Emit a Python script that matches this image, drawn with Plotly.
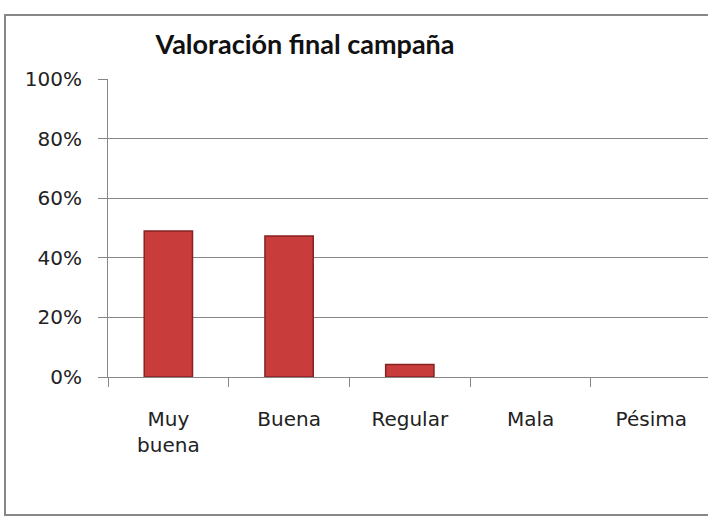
import plotly.graph_objects as go

categories = ["Muy<br>buena", "Buena", "Regular", "Mala", "Pésima"]
values = [0.49, 0.473, 0.042, 0.0, 0.0]
y_ticks = [0, 0.2, 0.4, 0.6, 0.8, 1.0]
title_text = "Valoración final campaña"

W, H = 708, 519
L, R, T, B = 108, 0, 79, 142
pw, ph = W - L - R, H - T - B

def px_x(p):
    return (p - L) / pw

def px_y(p):
    return (H - B - p) / ph

fig = go.Figure()
fig.add_trace(go.Bar(
    x=categories, y=values,
    marker=dict(color="#C83C3C",
                line=dict(color="#862222", width=[1.5 if v > 0 else 0 for v in values])),
    hoverinfo="skip",
))

fig.update_layout(
    width=W, height=H,
    margin=dict(l=L, r=R, t=T, b=B, pad=0),
    paper_bgcolor="white", plot_bgcolor="white",
    bargap=0.6, showlegend=False,
    font=dict(family="DejaVu Sans, sans-serif", color="#222222"),
    title=dict(text="<b>" + title_text + "</b>", x=px_x(305), xref="paper", xanchor="center",
               y=1 - 45 / H, yref="container", yanchor="middle",
               font=dict(family="Lato, sans-serif", size=27, color="#111111")),
    shapes=[dict(type="rect", xref="paper", yref="paper",
                 x0=px_x(5), x1=1.1, y0=px_y(515), y1=px_y(15),
                 line=dict(color="#878787", width=2), layer="below")],
)

fig.update_xaxes(
    type="category", range=[-0.5, 4.47],
    showline=True, linecolor="#878787", linewidth=1,
    ticks="outside", tickson="boundaries", ticklen=9, tickcolor="#878787",
    tickfont=dict(family="DejaVu Sans, sans-serif", size=20, color="#222222"),
    ticklabelstandoff=24,
    showgrid=False, zeroline=False,
)
fig.update_yaxes(
    range=[0, 1], tickvals=y_ticks, tickformat=".0%",
    showline=True, linecolor="#878787", linewidth=1,
    ticks="outside", ticklen=9, tickcolor="#878787",
    tickfont=dict(family="DejaVu Sans, sans-serif", size=20, color="#222222"),
    ticklabelstandoff=12,
    showgrid=True, gridcolor="#878787", gridwidth=1,
    zeroline=False,
)

fig.write_html("out.html", config={"displayModeBar": False},
               post_script="document.body.style.margin='0';")
